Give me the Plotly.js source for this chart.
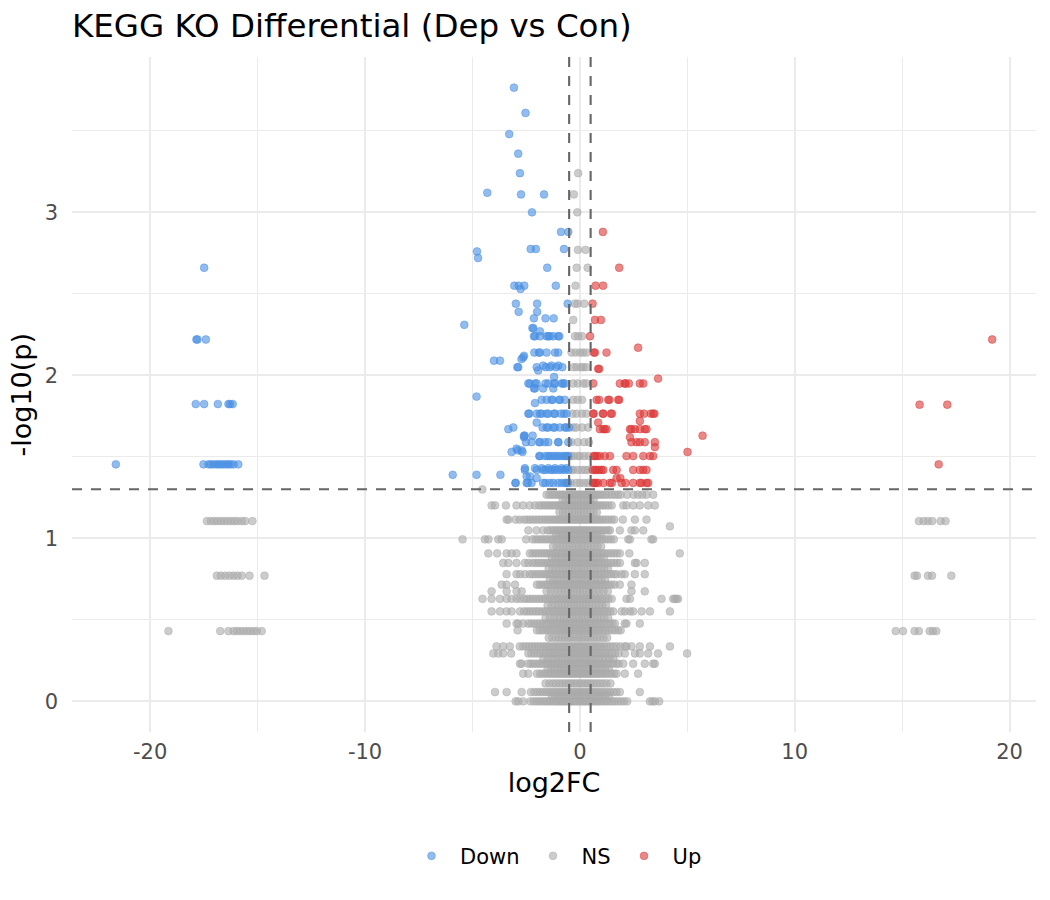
<!DOCTYPE html>
<html>
<head>
<meta charset="utf-8">
<script src="https://cdn.plot.ly/plotly-3.0.1.min.js"></script>
<style>
  html, body { margin: 0; padding: 0; background: #ffffff; }
  #chart { width: 1050px; height: 900px; }
</style>
</head>
<body>
<div id="chart"></div>
<script>
// Volcano plot of KEGG KO features: log2 fold change vs -log10(p).
// Each group is stored as -log10(p) levels with the log2FC values found at each level.

const downLevels = [3.765, 3.61, 3.48, 3.36, 3.24, 3.12, 3.11, 3.0, 2.88, 2.775, 2.76, 2.72, 2.66, 2.55, 2.53,
  2.44, 2.39, 2.35, 2.31, 2.29, 2.27, 2.24, 2.22, 2.14, 2.12, 2.11, 2.1, 2.09, 2.06, 2.05, 2.03, 1.99,
  1.95, 1.92, 1.87, 1.85, 1.83, 1.824, 1.765, 1.71, 1.68, 1.67, 1.63, 1.62, 1.59, 1.55, 1.54, 1.53,
  1.505, 1.454, 1.43, 1.42, 1.39, 1.38, 1.37, 1.34];
const downX = [
  [-3.07], [-2.53], [-3.29], [-2.87], [-2.79], [-4.31], [-2.74, -1.67], [-2.23], [-0.88, -0.54],
  [-2.29, -2.05, -0.74], [-4.79], [-4.74], [-1.52, -17.49], [-3.05, -2.85, -2.59, -1.12], [-2.76],
  [-2.98, -1.99, -0.57], [-2.85, -1.99], [-2.14, -1.6, -1.22], [-5.38], [-2.21, -2.17], [-1.86],
  [-2.14, -2.09, -1.86, -1.55, -1.47, -1.4, -1.24, -1.01, -0.96], [-17.85, -17.8, -17.41],
  [-2.12, -1.91, -1.86, -1.55, -1.16, -1.01], [-2.6], [-2.64], [-2.72], [-4.0, -3.72],
  [-1.71, -1.32, -1.0], [-2.91, -2.87, -2.01, -1.58, -1.4, -1.11, -0.82], [-1.94], [-1.2],
  [-2.4, -2.33, -2.09, -2.01, -1.6, -1.47, -1.2, -1.16, -0.85, -0.78, -0.7], [-2.14, -2.09, -1.71, -1.24],
  [-4.81], [-1.78, -1.55, -1.32, -1.27, -0.96, -0.93, -0.7], [-2.09],
  [-17.88, -17.49, -16.85, -16.36, -16.28, -16.16],
  [-2.4, -2.36, -2.01, -1.86, -1.78, -1.55, -1.47, -1.2, -1.16, -0.88, -0.74, -0.62], [-2.01],
  [-3.1, -1.74, -1.55, -1.47, -1.24, -1.16, -0.93, -0.7, -0.62, -0.5], [-3.33], [-2.6, -2.57, -2.2], [-2.6],
  [-2.51, -2.25, -1.89, -1.86, -1.63, -1.47, -1.01, -1.0, -0.54], [-2.95], [-2.89, -2.71], [-3.18, -2.67],
  [-1.89, -1.86, -1.63, -1.5, -1.4, -1.28, -1.16, -1.05, -0.93, -0.8, -0.7, -0.6, -0.54],
  [-21.6, -17.52, -17.29, -17.18, -17.06, -16.93, -16.82, -16.71, -16.59, -16.47, -16.36, -16.25, -16.12, -15.9],
  [-2.56, -2.09, -1.78, -1.47, -1.16, -0.85, -0.62],
  [-2.56, -2.01, -1.71, -1.6, -1.4, -1.28, -1.16, -1.0, -0.85, -0.7, -0.54], [-5.92, -4.81, -3.7],
  [-2.48, -2.33], [-2.01],
  [-3.0, -2.99, -2.48, -2.42, -2.25, -1.71, -1.6, -1.4, -1.24, -1.01, -0.85, -0.7, -0.62, -0.55]
];

const upLevels = [2.88, 2.66, 2.55, 2.44, 2.34, 2.24, 2.22, 2.17, 2.14, 2.04, 1.98, 1.95, 1.85, 1.82, 1.765,
  1.72, 1.71, 1.67, 1.63, 1.62, 1.59, 1.56, 1.53, 1.505, 1.454, 1.42, 1.37, 1.34];
const upX = [
  [1.07], [1.83], [0.73, 1.08], [0.59], [0.7, 0.98], [0.47], [19.19], [2.71], [0.65, 0.7, 1.24], [0.85, 0.9],
  [3.64], [0.62, 1.86, 2.09, 2.12, 2.28, 2.79, 2.95], [0.78, 0.9, 1.32, 1.37, 1.78, 1.83], [15.81, 17.1],
  [0.62, 0.64, 1.07, 1.09, 1.44, 1.49, 2.79, 2.98, 3.3, 3.41, 3.47], [2.79], [0.85],
  [0.93, 1.09, 1.16, 1.24, 2.33, 2.4, 2.56, 2.79, 3.02, 3.1], [5.71], [2.33], [2.4, 2.64, 2.79, 3.02, 3.49],
  [3.49], [5.01], [0.64, 0.7, 0.8, 0.93, 1.16, 1.4, 2.17, 2.48, 2.95, 3.26, 3.41], [16.7],
  [0.6, 0.7, 0.78, 0.9, 1.01, 1.09, 1.55, 1.71, 2.48, 2.79, 2.95, 3.1], [1.71, 1.88],
  [0.6, 0.68, 0.75, 0.85, 1.09, 1.4, 1.49, 1.94, 2.12, 2.48, 2.79, 2.87, 3.1, 3.18]
];

const nsLevels = [3.24, 3.11, 3.0, 2.77, 2.66, 2.55, 2.44, 2.34, 2.24, 2.14, 2.05, 1.95, 1.85, 1.765, 1.68,
  1.59, 1.505, 1.42, 1.34, 1.30, 1.268, 1.235, 1.202, 1.16, 1.115, 1.106, 1.074, 1.049, 1.02, 0.994, 0.95,
  0.908, 0.88, 0.849, 0.815, 0.78, 0.771, 0.745, 0.716, 0.675, 0.629, 0.59, 0.552, 0.51, 0.477, 0.436,
  0.431, 0.39, 0.337, 0.294, 0.26, 0.231, 0.2, 0.17, 0.11, 0.057, 0.03, 0.0];
const nsX = [
  [-0.08], [-0.28], [-0.12], [-0.09, 0.26], [-0.15, 0.36], [-0.2], [-0.23, -0.11, 0.2], [-0.31],
  [-0.23, -0.08, 0.1], [-0.39, -0.2, 0.0, 0.15, 0.31], [-0.3, -0.16, 0.05, 0.16, 0.3], [-0.31, -0.1, 0.16, 0.3],
  [-0.31, -0.11, 0.1], [-0.35, -0.16, 0.1, 0.3], [-0.3, -0.16, 0.1, 0.38], [-0.4, -0.1, 0.2, 0.42],
  [-0.4, -0.31, -0.1, 0.0, 0.2, 0.4], [-0.4, -0.31, -0.1, 0.08, 0.25, 0.4], [-0.4, -0.16, 0.0, 0.2, 0.38],
  [-4.54],
  [-1.55, -1.42, -1.3, -1.18, -1.07, -0.96, -0.86, -0.76, -0.66, -0.57, -0.48, -0.39, -0.3, -0.21, -0.12, -0.03,
   0.06, 0.15, 0.24, 0.33, 0.42, 0.52, 0.62, 0.72, 0.83, 0.94, 1.06, 1.19, 1.33, 1.48, 1.63, 1.78, 1.9,
   2.2, 2.5, 2.7, 2.9, 3.1, 3.41],
  [-0.8, -0.65, -0.5, -0.36, -0.22, -0.08, 0.06, 0.2, 0.34, 0.49, 0.64],
  [-4.11, -3.95, -3.44, -2.95, -2.64, -2.33, -2.09, -1.9, -1.77, -1.64, -1.52, -1.4, -1.28, -1.17, -1.06, -0.96,
   -0.86, -0.76, -0.66, -0.57, -0.48, -0.39, -0.3, -0.21, -0.12, -0.03, 0.06, 0.15, 0.24, 0.33, 0.42, 0.52,
   0.62, 0.72, 0.83, 0.94, 1.06, 1.19, 1.33, 1.48, 2.02, 2.17, 2.48, 2.79, 3.18, 3.49],
  [-0.95, -0.8, -0.65, -0.51, -0.37, -0.23, -0.09, 0.05, 0.19, 0.33, 0.48, 0.63, 0.79],
  [-3.41, -3.33, -2.99, -2.8, -2.6, -2.46, -2.32, -2.18, -2.04, -1.9, -1.77, -1.64, -1.52, -1.4, -1.28, -1.17,
   -1.06, -0.96, -0.86, -0.76, -0.66, -0.57, -0.48, -0.39, -0.3, -0.21, -0.12, -0.03, 0.06, 0.15, 0.24, 0.33,
   0.42, 0.52, 0.62, 0.72, 0.83, 0.94, 1.06, 1.19, 1.33, 1.48, 1.6, 2.0, 2.56, 3.1],
  [-17.36, -17.18, -17.02, -16.87, -16.71, -16.56, -16.4, -16.25, -16.09, -15.94, -15.74, -15.58, -15.24,
   15.78, 16.0, 16.2, 16.4, 16.79, 17.02],
  [4.19],
  [-2.4, -2.02, -1.71, -1.5, -1.38, -1.26, -1.15, -1.04, -0.94, -0.84, -0.74, -0.64, -0.55, -0.46, -0.37, -0.28,
   -0.19, -0.1, -0.01, 0.08, 0.17, 0.26, 0.35, 0.44, 0.54, 0.64, 0.74, 0.85, 0.96, 1.08, 1.2, 1.32, 1.4, 1.86,
   2.4, 2.56, 2.95],
  [-1.1, -0.94, -0.79, -0.64, -0.5, -0.36, -0.22, -0.08, 0.06, 0.2, 0.34, 0.49, 0.64, 0.8, 0.97],
  [-5.46, -4.42, -4.26, -3.8, -3.64, -2.5, -2.2, -2.06, -1.93, -1.8, -1.67, -1.55, -1.43, -1.31, -1.2, -1.09,
   -0.98, -0.88, -0.78, -0.68, -0.59, -0.5, -0.41, -0.32, -0.23, -0.14, -0.05, 0.04, 0.13, 0.22, 0.31, 0.4,
   0.5, 0.6, 0.7, 0.81, 0.92, 1.04, 1.17, 1.3, 1.44, 1.58, 2.25, 2.33, 3.33, 3.41],
  [-1.25, -1.08, -0.92, -0.77, -0.62, -0.48, -0.34, -0.2, -0.06, 0.08, 0.22, 0.36, 0.51, 0.66, 0.82, 0.99],
  [-4.26, -3.85, -3.41, -3.18, -2.95, -2.33, -2.2, -2.06, -1.93, -1.8, -1.67, -1.55, -1.43, -1.31, -1.2, -1.09,
   -0.98, -0.88, -0.78, -0.68, -0.59, -0.5, -0.41, -0.32, -0.23, -0.14, -0.05, 0.04, 0.13, 0.22, 0.31, 0.4,
   0.5, 0.6, 0.7, 0.81, 0.92, 1.04, 1.17, 1.3, 1.44, 1.58, 1.72, 1.86, 2.3, 4.65],
  [-1.3, -1.13, -0.97, -0.82, -0.67, -0.53, -0.39, -0.25, -0.11, 0.03, 0.17, 0.31, 0.46, 0.61, 0.77, 0.94, 1.11],
  [-3.57, -3.33, -2.95, -2.56, -2.4, -2.2, -2.06, -1.93, -1.8, -1.67, -1.55, -1.43, -1.31, -1.2, -1.09, -0.98,
   -0.88, -0.78, -0.68, -0.59, -0.5, -0.41, -0.32, -0.23, -0.14, -0.05, 0.04, 0.13, 0.22, 0.31, 0.4, 0.5,
   0.6, 0.7, 0.81, 0.92, 1.04, 1.17, 1.3, 1.44, 1.58, 1.72, 1.86, 2.56, 2.64, 3.02],
  [-1.45, -1.27, -1.1, -0.94, -0.79, -0.64, -0.5, -0.36, -0.22, -0.08, 0.06, 0.2, 0.34, 0.49, 0.64, 0.8, 0.96,
   1.13, 1.31],
  [-3.41, -2.95, -2.79, -2.56, -2.33, -2.2, -2.06, -1.93, -1.8, -1.67, -1.55, -1.43, -1.31, -1.2, -1.09, -0.98,
   -0.88, -0.78, -0.68, -0.59, -0.5, -0.41, -0.32, -0.23, -0.14, -0.05, 0.04, 0.13, 0.22, 0.31, 0.4, 0.5,
   0.6, 0.7, 0.81, 0.92, 1.04, 1.17, 1.3, 1.44, 1.58, 1.7, 1.94, 2.09, 2.56, 3.02],
  [-16.9, -16.71, -16.51, -16.31, -16.12, -15.94, -15.74, -15.38, -14.68, 15.58, 15.69, 16.2, 16.39, 17.29],
  [-1.4, -1.22, -1.05, -0.89, -0.74, -0.6, -0.46, -0.32, -0.18, -0.04, 0.1, 0.24, 0.38, 0.53, 0.68, 0.84, 1.0, 1.17],
  [-3.64, -3.41, -3.02, -2.0, -1.87, -1.74, -1.61, -1.49, -1.37, -1.26, -1.15, -1.04, -0.94, -0.84, -0.74, -0.64,
   -0.55, -0.46, -0.37, -0.28, -0.19, -0.1, -0.01, 0.08, 0.17, 0.26, 0.35, 0.44, 0.54, 0.64, 0.74, 0.85, 0.96,
   1.08, 1.2, 1.33, 1.47, 1.62, 1.86, 2.4],
  [-4.11, -3.41, -2.95, -2.71, -1.55, -1.36, -1.18, -1.01, -0.85, -0.7, -0.55, -0.41, -0.27, -0.13, 0.01, 0.15,
   0.29, 0.44, 0.59, 0.75, 0.92, 1.1, 1.3, 2.4, 3.02],
  [-4.53, -4.11, -3.72, -3.41, -3.18, -2.95, -2.79, -2.6, -2.46, -2.32, -2.18, -2.04, -1.9, -1.77, -1.64, -1.52,
   -1.4, -1.28, -1.17, -1.06, -0.96, -0.86, -0.76, -0.66, -0.57, -0.48, -0.39, -0.3, -0.21, -0.12, -0.03, 0.06,
   0.15, 0.24, 0.33, 0.42, 0.52, 0.62, 0.72, 0.83, 0.94, 1.06, 1.19, 1.33, 1.48, 2.17, 2.33, 3.8, 4.34, 4.42,
   4.5, 4.57],
  [-1.5, -1.32, -1.15, -0.99, -0.84, -0.69, -0.55, -0.41, -0.27, -0.13, 0.01, 0.15, 0.29, 0.43, 0.58, 0.73, 0.89,
   1.05, 1.22],
  [-4.11, -3.72, -3.41, -3.18, -2.79, -2.6, -2.46, -2.32, -2.18, -2.04, -1.91, -1.78, -1.65, -1.53, -1.41, -1.29,
   -1.18, -1.07, -0.97, -0.87, -0.77, -0.67, -0.58, -0.49, -0.4, -0.31, -0.22, -0.13, -0.04, 0.05, 0.14, 0.23,
   0.32, 0.41, 0.5, 0.6, 0.7, 0.8, 0.91, 1.02, 1.14, 1.27, 1.41, 1.55, 1.94, 2.1, 2.33, 2.48, 2.87, 3.26, 4.19],
  [-1.6, -1.4, -1.22, -1.05, -0.9, -0.75, -0.61, -0.47, -0.33, -0.19, -0.05, 0.09, 0.23, 0.37, 0.51, 0.66, 0.81,
   0.97, 1.14, 1.32],
  [-3.41, -2.95, -2.87, -2.64, -2.4, -2.26, -2.12, -1.98, -1.85, -1.72, -1.59, -1.47, -1.35, -1.24, -1.13, -1.02,
   -0.92, -0.82, -0.72, -0.63, -0.54, -0.45, -0.36, -0.27, -0.18, -0.09, 0.0, 0.09, 0.18, 0.27, 0.36, 0.46,
   0.56, 0.66, 0.77, 0.88, 1.0, 1.12, 1.25, 1.39, 1.52, 1.63, 2.09, 2.17, 2.79],
  [-2.9, -2.0, -1.87, -1.74, -1.61, -1.49, -1.37, -1.25, -1.14, -1.03, -0.93, -0.83, -0.73, -0.63, -0.54, -0.45,
   -0.36, -0.27, -0.18, -0.09, 0.0, 0.09, 0.18, 0.27, 0.36, 0.45, 0.55, 0.65, 0.75, 0.86, 0.97, 1.09, 1.21,
   1.34, 1.48, 1.63, 1.78, 1.9],
  [-19.15, -16.74, -16.36, -16.12, -15.97, -15.81, -15.66, -15.5, -15.35, -15.19, -15.04, -14.81,
   14.7, 15.04, 15.58, 15.78, 16.28, 16.43, 16.59],
  [-1.45, -1.28, -1.12, -0.97, -0.83, -0.69, -0.55, -0.42, -0.29, -0.16, -0.03, 0.1, 0.23, 0.36, 0.5, 0.64, 0.79,
   0.94, 1.1, 1.27],
  [-3.88, -3.57, -3.26, -2.8, -2.64, -2.5, -2.36, -2.22, -2.08, -1.95, -1.82, -1.69, -1.57, -1.45, -1.33, -1.22,
   -1.11, -1.0, -0.9, -0.8, -0.7, -0.6, -0.51, -0.42, -0.33, -0.24, -0.15, -0.06, 0.03, 0.12, 0.21, 0.3, 0.39,
   0.48, 0.58, 0.68, 0.78, 0.89, 1.0, 1.12, 1.25, 1.39, 1.54, 1.7, 1.88, 2.09, 2.17, 2.4, 2.79, 3.26, 4.19],
  [-4.03, -3.8, -3.57, -3.2, -2.4, -2.26, -2.12, -1.98, -1.85, -1.72, -1.59, -1.47, -1.35, -1.24, -1.13, -1.02,
   -0.92, -0.82, -0.72, -0.62, -0.53, -0.44, -0.35, -0.26, -0.17, -0.08, 0.01, 0.1, 0.19, 0.28, 0.37, 0.46,
   0.56, 0.66, 0.76, 0.87, 0.98, 1.1, 1.22, 1.35, 1.49, 1.64, 1.8, 2.09, 2.56, 2.79, 3.18, 3.64, 4.99],
  [-1.7, -1.5, -1.32, -1.15, -0.99, -0.84, -0.69, -0.55, -0.41, -0.27, -0.13, 0.01, 0.15, 0.29, 0.43, 0.57, 0.72,
   0.87, 1.03, 1.2, 1.38, 1.56],
  [-2.79, -2.71, -2.4, -2.28, -2.15, -2.02, -1.89, -1.76, -1.64, -1.52, -1.4, -1.29, -1.18, -1.07, -0.97, -0.87,
   -0.77, -0.67, -0.58, -0.49, -0.4, -0.31, -0.22, -0.13, -0.04, 0.05, 0.14, 0.23, 0.32, 0.41, 0.5, 0.6, 0.7,
   0.8, 0.91, 1.02, 1.14, 1.26, 1.4, 1.55, 1.7, 1.8, 2.02, 2.48, 3.02, 3.41, 3.49],
  [-1.5, -1.33, -1.17, -1.02, -0.88, -0.74, -0.6, -0.47, -0.34, -0.21, -0.08, 0.05, 0.18, 0.31, 0.44, 0.58, 0.72,
   0.87, 1.02, 1.18, 1.35],
  [-2.64, -2.4, -2.0, -1.86, -1.73, -1.61, -1.49, -1.38, -1.27, -1.16, -1.06, -0.96, -0.86, -0.77, -0.68, -0.59,
   -0.5, -0.41, -0.32, -0.23, -0.14, -0.05, 0.04, 0.13, 0.22, 0.31, 0.4, 0.49, 0.58, 0.68, 0.78, 0.88, 0.99,
   1.1, 1.22, 1.34, 1.47, 1.6, 1.71, 2.09, 2.71],
  [-1.6, -1.42, -1.25, -1.1, -0.95, -0.81, -0.67, -0.54, -0.41, -0.28, -0.15, -0.02, 0.11, 0.24, 0.37, 0.5, 0.64,
   0.78, 0.93, 1.08, 1.24, 1.42],
  [-3.95, -3.41, -2.71, -2.28, -2.12, -1.98, -1.85, -1.72, -1.6, -1.48, -1.36, -1.25, -1.14, -1.04, -0.94, -0.84,
   -0.74, -0.64, -0.55, -0.46, -0.37, -0.28, -0.19, -0.1, -0.01, 0.08, 0.17, 0.26, 0.35, 0.44, 0.53, 0.62,
   0.72, 0.82, 0.93, 1.04, 1.16, 1.28, 1.41, 1.55, 1.7, 1.86, 2.79],
  [-1.3, -1.15, -1.0, -0.86, -0.72, -0.58, -0.45, -0.32, -0.19, -0.06, 0.07, 0.2, 0.33, 0.46, 0.6, 0.74, 0.88,
   1.03, 1.18, 1.35],
  [-2.99, -2.87, -2.64, -2.3, -2.15, -2.02, -1.9, -1.78, -1.66, -1.55, -1.44, -1.33, -1.22, -1.12, -1.02, -0.93,
   -0.84, -0.75, -0.66, -0.57, -0.48, -0.39, -0.3, -0.21, -0.12, -0.03, 0.06, 0.15, 0.24, 0.33, 0.42, 0.51,
   0.6, 0.7, 0.8, 0.9, 1.01, 1.12, 1.24, 1.36, 1.49, 1.62, 1.76, 1.9, 2.05, 2.2, 3.26, 3.38, 3.49, 3.69]
];

const groupNames = ['Down', 'NS', 'Up'];
const groupColors = ['74,144,226', '170,170,170', '220,56,56'];
const xTicks = [-20, -10, 0, 10, 20];
const xTickText = ['-20', '-10', '0', '10', '20'];
const yTicks = [0, 1, 2, 3];
const yTickText = ['0', '1', '2', '3'];
const fcCut = 0.5;
const pCut = 1.30103;

function flatten(levels, xs) {
  const x = [], y = [];
  levels.forEach((lv, i) => {
    xs[i].forEach(v => { x.push(v); y.push(lv); });
  });
  return { x, y };
}

function pointTrace(name, idx, pts, rank) {
  const c = 'rgba(' + groupColors[idx] + ',0.6)';
  return {
    type: 'scatter', mode: 'markers', name: name,
    x: pts.x, y: pts.y, legendrank: rank,
    marker: { size: 7.8, color: c, line: { color: c, width: 0.8 } },
    hoverinfo: 'x+y+name'
  };
}

const ns = flatten(nsLevels, nsX);
const down = flatten(downLevels, downX);
const up = flatten(upLevels, upX);

const data = [
  pointTrace(groupNames[1], 1, ns, 2),
  pointTrace(groupNames[0], 0, down, 1),
  pointTrace(groupNames[2], 2, up, 3)
];

const dashLine = { color: '#666666', width: 2.1, dash: '10px,9px' };
const layout = {
  width: 1050, height: 900,
  margin: { l: 72, r: 14, t: 57, b: 168 },
  paper_bgcolor: '#ffffff', plot_bgcolor: '#ffffff',
  font: { family: 'DejaVu Sans, sans-serif', color: '#000000' },
  title: {
    text: 'KEGG KO Differential (Dep vs Con)',
    xref: 'paper', x: 0, xanchor: 'left',
    yref: 'container', y: 0.971, yanchor: 'middle',
    font: { size: 32.5, color: '#000000' }
  },
  showlegend: true,
  legend: {
    orientation: 'h', x: 0.501, xanchor: 'center', y: -0.184, yanchor: 'middle',
    itemwidth: 47, font: { size: 21, color: '#000000' }, bgcolor: 'rgba(0,0,0,0)'
  },
  xaxis: {
    range: [-23.64, 21.23], tickmode: 'array', tickvals: xTicks, ticktext: xTickText,
    showgrid: true, gridcolor: '#EBEBEB', gridwidth: 2, zeroline: false, showline: false, ticks: '',
    ticklabelstandoff: 5,
    tickfont: { size: 21, color: '#4D4D4D' },
    minor: { tickmode: 'linear', tick0: -15, dtick: 10, showgrid: true, gridcolor: '#EBEBEB', gridwidth: 1 },
    title: { text: 'log2FC', font: { size: 27, color: '#000000' }, standoff: 10 }
  },
  yaxis: {
    range: [-0.188, 3.953], tickmode: 'array', tickvals: yTicks, ticktext: yTickText,
    showgrid: true, gridcolor: '#EBEBEB', gridwidth: 2, zeroline: false, showline: false, ticks: '',
    ticklabelstandoff: 13,
    tickfont: { size: 21, color: '#4D4D4D' },
    minor: { tickmode: 'linear', tick0: 0.5, dtick: 1, showgrid: true, gridcolor: '#EBEBEB', gridwidth: 1 }
  },
  annotations: [
    {
      text: '-log10(p)', textangle: -90, showarrow: false,
      xref: 'paper', yref: 'paper', x: -0.0519, y: 0.5, xanchor: 'center', yanchor: 'middle',
      font: { size: 27, color: '#000000' }
    }
  ],
  shapes: [
    { type: 'line', xref: 'x', yref: 'paper', x0: -fcCut, x1: -fcCut, y0: 0, y1: 1, line: dashLine, layer: 'above' },
    { type: 'line', xref: 'x', yref: 'paper', x0: fcCut, x1: fcCut, y0: 0, y1: 1, line: dashLine, layer: 'above' },
    { type: 'line', xref: 'paper', yref: 'y', x0: 0, x1: 1, y0: pCut, y1: pCut, line: dashLine, layer: 'above' }
  ]
};

Plotly.newPlot('chart', data, layout, { displayModeBar: false, staticPlot: true });
</script>
</body>
</html>
